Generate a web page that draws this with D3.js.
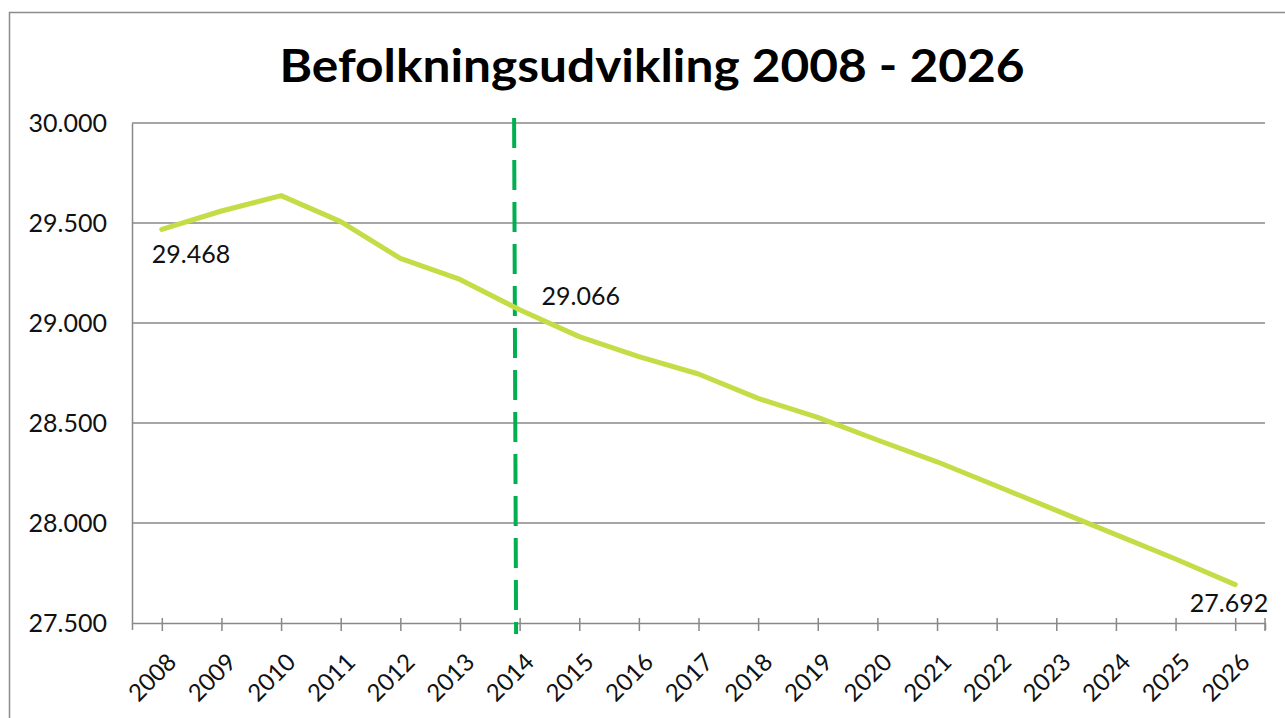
<!DOCTYPE html>
<html>
<head>
<meta charset="utf-8">
<script src="https://cdn.jsdelivr.net/npm/d3@7"></script>
<style>
  body { margin: 0; background: #fff; }
  svg { display: block; font-family: "Lato", "DejaVu Sans", sans-serif; }
</style>
</head>
<body>
<svg id="chart" width="1285" height="718"></svg>
<script>
// data
var years = ['2008','2009','2010','2011','2012','2013','2014','2015','2016','2017',
             '2018','2019','2020','2021','2022','2023','2024','2025','2026']
var population = [29468, 29560, 29637, 29507, 29323, 29218, 29066, 28932, 28832, 28745,
                  28623, 28528, 28415, 28306, 28185, 28063, 27942, 27820, 27692]
var yTicks = [27500, 28000, 28500, 29000, 29500, 30000]
var labelYears = ['2008', '2014', '2026']
var splitYear = '2014'
var title = 'Befolkningsudvikling 2008 - 2026'

var svg = d3.select('#chart')
var margin = {left: 132, top: 123, right: 20, bottom: 95}
var W = 1285, H = 718
var fmt = d => d3.format(',')(d).replace(',', '.')

// outer frame (runs off the picture at right and bottom like in the reference)
svg.append('rect')
  .attr('x', 9.5).attr('y', 12.5)
  .attr('width', W).attr('height', H)
  .attr('fill', 'none').attr('stroke', '#8c8c8c').attr('stroke-width', 1.5)

var x = d3.scalePoint().domain(years).range([margin.left, W - margin.right]).padding(0.5)
var y = d3.scaleLinear().domain([27500, 30000]).range([H - margin.bottom, margin.top])

// title
svg.append('text')
  .attr('x', 652).attr('y', 82)
  .attr('text-anchor', 'middle')
  .attr('font-size', 45).attr('font-weight', 'bold')
  .attr('textLength', 745).attr('lengthAdjust', 'spacingAndGlyphs')
  .text(title)

// gridlines
svg.append('g').selectAll('line')
  .data(yTicks.slice(1))
  .join('line')
  .attr('x1', margin.left).attr('x2', W - margin.right)
  .attr('y1', d => y(d)).attr('y2', d => y(d))
  .attr('stroke', '#888').attr('stroke-width', 1.5)

// y axis
var yAxis = svg.append('g')
  .attr('transform', 'translate(' + margin.left + ',0)')
  .call(d3.axisLeft(y).tickValues(yTicks).tickSize(0).tickPadding(25).tickFormat(fmt))
yAxis.select('.domain').attr('stroke', '#888').attr('stroke-width', 1.5)
yAxis.selectAll('text').attr('font-size', 25).attr('fill', '#111').attr('font-family', 'Lato, sans-serif')

// x axis
var xAxis = svg.append('g')
  .attr('transform', 'translate(0,' + y(27500) + ')')
  .call(d3.axisBottom(x).tickSize(7).tickSizeOuter(7))
xAxis.select('.domain').attr('stroke', '#888').attr('stroke-width', 1.5)
xAxis.selectAll('.tick line')
  .attr('y1', -5).attr('y2', 8)
  .attr('stroke', '#888').attr('stroke-width', 1.5)
xAxis.selectAll('text')
  .attr('font-size', 24).attr('fill', '#111')
  .attr('font-family', 'Lato, sans-serif')
  .attr('text-anchor', 'end')
  .attr('dy', 0)
  .attr('transform', 'translate(2,27) rotate(-45)')
  .attr('y', 0).attr('x', 0)
  .attr('dominant-baseline', 'hanging')

// right-end tick of the category axis
svg.append('line')
  .attr('x1', W - margin.right).attr('x2', W - margin.right)
  .attr('y1', y(27500) - 5).attr('y2', y(27500) + 8)
  .attr('stroke', '#888').attr('stroke-width', 1.5)

// dashed marker at the split year
svg.append('line')
  .attr('x1', x(splitYear) - 5.5).attr('x2', x(splitYear) - 3.5)
  .attr('y1', margin.top - 5).attr('y2', y(27500) + 11)
  .attr('stroke', '#00b050').attr('stroke-width', 4)
  .attr('stroke-dasharray', '30 12')

// the population line
var line = d3.line().x((d, i) => x(years[i])).y(d => y(d))
svg.append('path')
  .datum(population)
  .attr('d', line)
  .attr('fill', 'none')
  .attr('stroke', '#c4dc46')
  .attr('stroke-width', 5)
  .attr('stroke-linejoin', 'round')
  .attr('stroke-linecap', 'round')

// data labels
var labelOffset = {'2008': [-10, 34, 'start'], '2014': [22, -5, 'start'], '2026': [33, 27, 'end']}
svg.append('g').selectAll('text')
  .data(labelYears)
  .join('text')
  .attr('x', d => x(d) + labelOffset[d][0])
  .attr('y', d => y(population[years.indexOf(d)]) + labelOffset[d][1])
  .attr('text-anchor', d => labelOffset[d][2])
  .attr('font-size', 25).attr('fill', '#111')
  .text(d => fmt(population[years.indexOf(d)]))
</script>
</body>
</html>
